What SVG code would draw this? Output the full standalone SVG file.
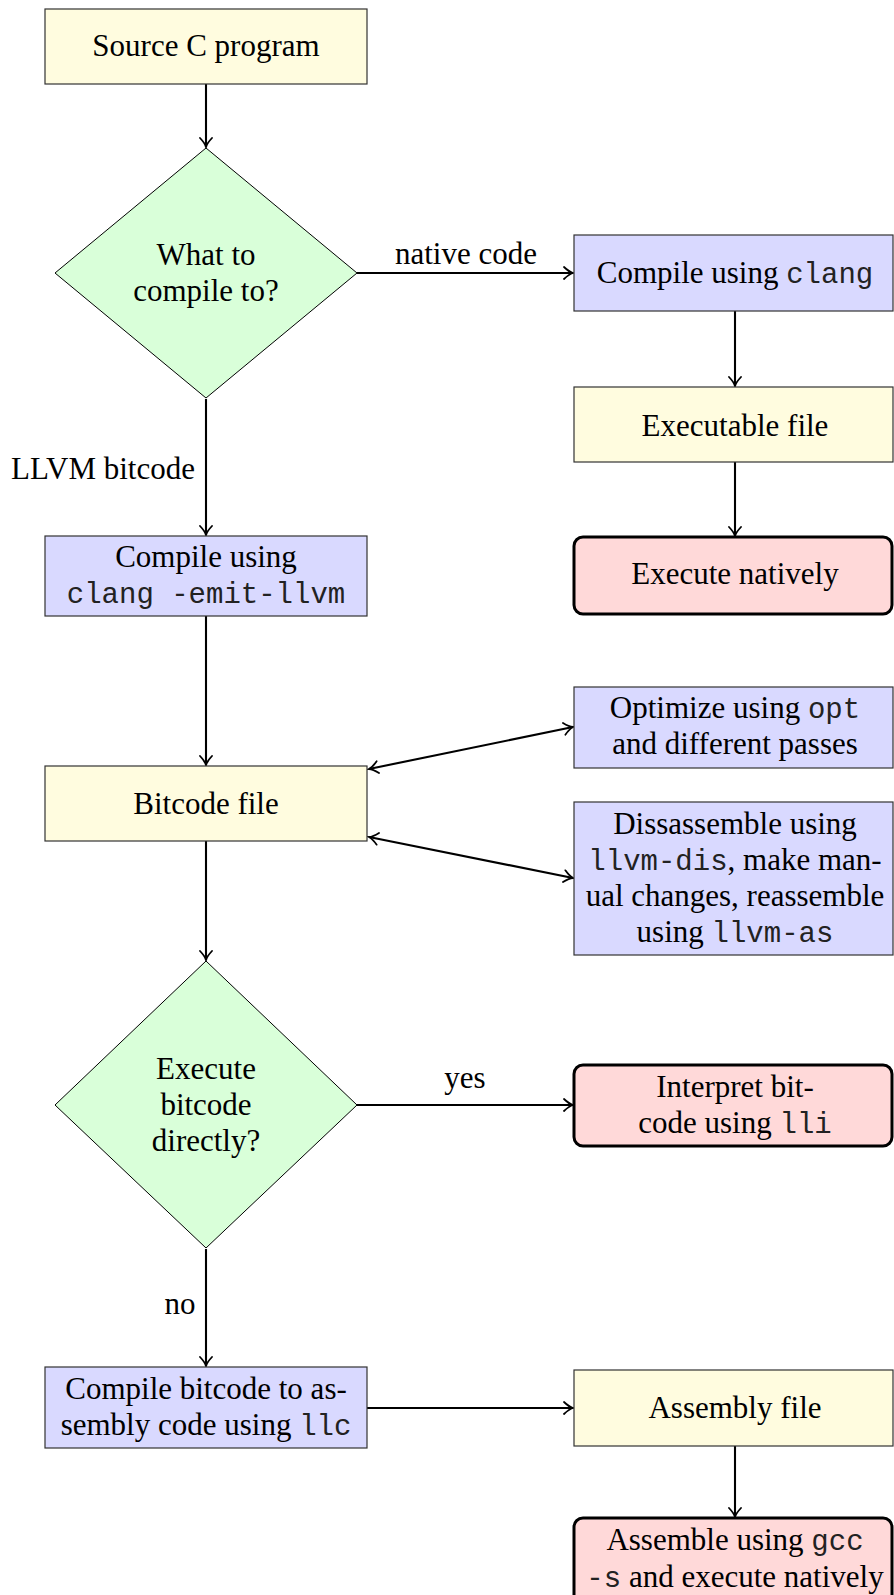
<svg xmlns="http://www.w3.org/2000/svg" width="894" height="1595" viewBox="0 0 894 1595">
  <style>
    .t { font-family: "Liberation Serif", "Times New Roman", serif; font-size: 31px; fill: #000; text-anchor: middle; }
    .m { font-family: "Liberation Mono", "Courier New", monospace; font-size: 29px; fill: #222; }
    .box { stroke: #333; stroke-width: 1.2; }
    .term { stroke: #000; stroke-width: 3; }
    .dia { stroke: #000; stroke-width: 1; fill: #d9ffd9; }
    .yel { fill: #fffcdf; }
    .blu { fill: #d9d9ff; }
    .red { fill: #ffd9d9; }
    .edge { stroke: #000; stroke-width: 2.1; fill: none; }
  </style>
  <defs>
    <marker id="tip" viewBox="-11 -7 13 14" refX="0" refY="0" markerWidth="13" markerHeight="14" markerUnits="userSpaceOnUse" orient="auto-start-reverse">
      <path d="M -9 -6 C -5.5 -2.7 -2.2 -0.6 0 0 C -2.2 0.6 -5.5 2.7 -9 6" fill="none" stroke="#000" stroke-width="1.8" stroke-linecap="round"/>
    </marker>
  </defs>

  <!-- connectors -->
  <g id="connectors">
    <line class="edge" x1="206" y1="84" x2="206" y2="147" marker-end="url(#tip)"/>
    <line class="edge" x1="357" y1="273" x2="573" y2="273" marker-end="url(#tip)"/>
    <line class="edge" x1="206" y1="399" x2="206" y2="535" marker-end="url(#tip)"/>
    <line class="edge" x1="735" y1="311" x2="735" y2="386" marker-end="url(#tip)"/>
    <line class="edge" x1="735" y1="462" x2="735" y2="536" marker-end="url(#tip)"/>
    <line class="edge" x1="206" y1="616" x2="206" y2="765" marker-end="url(#tip)"/>
    <line class="edge" x1="369" y1="769" x2="573" y2="727" marker-start="url(#tip)" marker-end="url(#tip)"/>
    <line class="edge" x1="369" y1="837" x2="573" y2="878" marker-start="url(#tip)" marker-end="url(#tip)"/>
    <line class="edge" x1="206" y1="841" x2="206" y2="960" marker-end="url(#tip)"/>
    <line class="edge" x1="357" y1="1105" x2="573" y2="1105" marker-end="url(#tip)"/>
    <line class="edge" x1="206" y1="1249" x2="206" y2="1366" marker-end="url(#tip)"/>
    <line class="edge" x1="367" y1="1408" x2="573" y2="1408" marker-end="url(#tip)"/>
    <line class="edge" x1="735" y1="1446" x2="735" y2="1517" marker-end="url(#tip)"/>
    <text class="t" x="466" y="264">native code</text>
    <text class="t" x="103" y="479">LLVM bitcode</text>
    <text class="t" x="465" y="1088">yes</text>
    <text class="t" x="180" y="1314">no</text>
  </g>

  <g id="source">
    <rect class="box yel" x="45" y="9" width="322" height="75"/>
    <text class="t" x="206" y="56">Source C program</text>
  </g>

  <g id="choose-target">
    <polygon class="dia" points="206,148 357,273 206,398 55,273"/>
    <text class="t" x="206" y="265">What to</text>
    <text class="t" x="206" y="301">compile to?</text>
  </g>

  <g id="compile-native">
    <rect class="box blu" x="574" y="235" width="319" height="76"/>
    <text class="t" x="735" y="283">Compile using <tspan class="m">clang</tspan></text>
  </g>

  <g id="executable">
    <rect class="box yel" x="574" y="387" width="319" height="75"/>
    <text class="t" x="735" y="436">Executable file</text>
  </g>

  <g id="run-native">
    <rect class="term red" x="574" y="537" width="318" height="77" rx="9"/>
    <text class="t" x="735" y="584">Execute natively</text>
  </g>

  <g id="compile-bitcode">
    <rect class="box blu" x="45" y="536" width="322" height="80"/>
    <text class="t" x="206" y="567">Compile using</text>
    <text class="t m" x="206" y="603">clang -emit-llvm</text>
  </g>

  <g id="bitcode">
    <rect class="box yel" x="45" y="766" width="322" height="75"/>
    <text class="t" x="206" y="814">Bitcode file</text>
  </g>

  <g id="optimize">
    <rect class="box blu" x="574" y="687" width="319" height="81"/>
    <text class="t" x="735" y="718">Optimize using <tspan class="m">opt</tspan></text>
    <text class="t" x="735" y="754">and different passes</text>
  </g>

  <g id="disassemble">
    <rect class="box blu" x="574" y="802" width="319" height="153"/>
    <text class="t" x="735" y="834">Dissassemble using</text>
    <text class="t" x="735" y="870"><tspan class="m">llvm-dis</tspan>, make man-</text>
    <text class="t" x="735" y="906">ual changes, reassemble</text>
    <text class="t" x="735" y="942">using <tspan class="m">llvm-as</tspan></text>
  </g>

  <g id="run-directly">
    <polygon class="dia" points="206,961 357,1105 206,1248 55,1105"/>
    <text class="t" x="206" y="1079">Execute</text>
    <text class="t" x="206" y="1115">bitcode</text>
    <text class="t" x="206" y="1151">directly?</text>
  </g>

  <g id="interpret">
    <rect class="term red" x="574" y="1065" width="318" height="81" rx="9"/>
    <text class="t" x="735" y="1097">Interpret bit-</text>
    <text class="t" x="735" y="1133">code using <tspan class="m">lli</tspan></text>
  </g>

  <g id="compile-asm">
    <rect class="box blu" x="45" y="1367" width="322" height="81"/>
    <text class="t" x="206" y="1399">Compile bitcode to as-</text>
    <text class="t" x="206" y="1435">sembly code using <tspan class="m">llc</tspan></text>
  </g>

  <g id="assembly">
    <rect class="box yel" x="574" y="1370" width="319" height="76"/>
    <text class="t" x="735" y="1418">Assembly file</text>
  </g>

  <g id="assemble-run">
    <rect class="term red" x="574" y="1518" width="318" height="95" rx="9"/>
    <text class="t" x="735" y="1550">Assemble using <tspan class="m">gcc</tspan></text>
    <text class="t" x="735" y="1587"><tspan class="m">-s</tspan> and execute natively</text>
  </g>
</svg>
